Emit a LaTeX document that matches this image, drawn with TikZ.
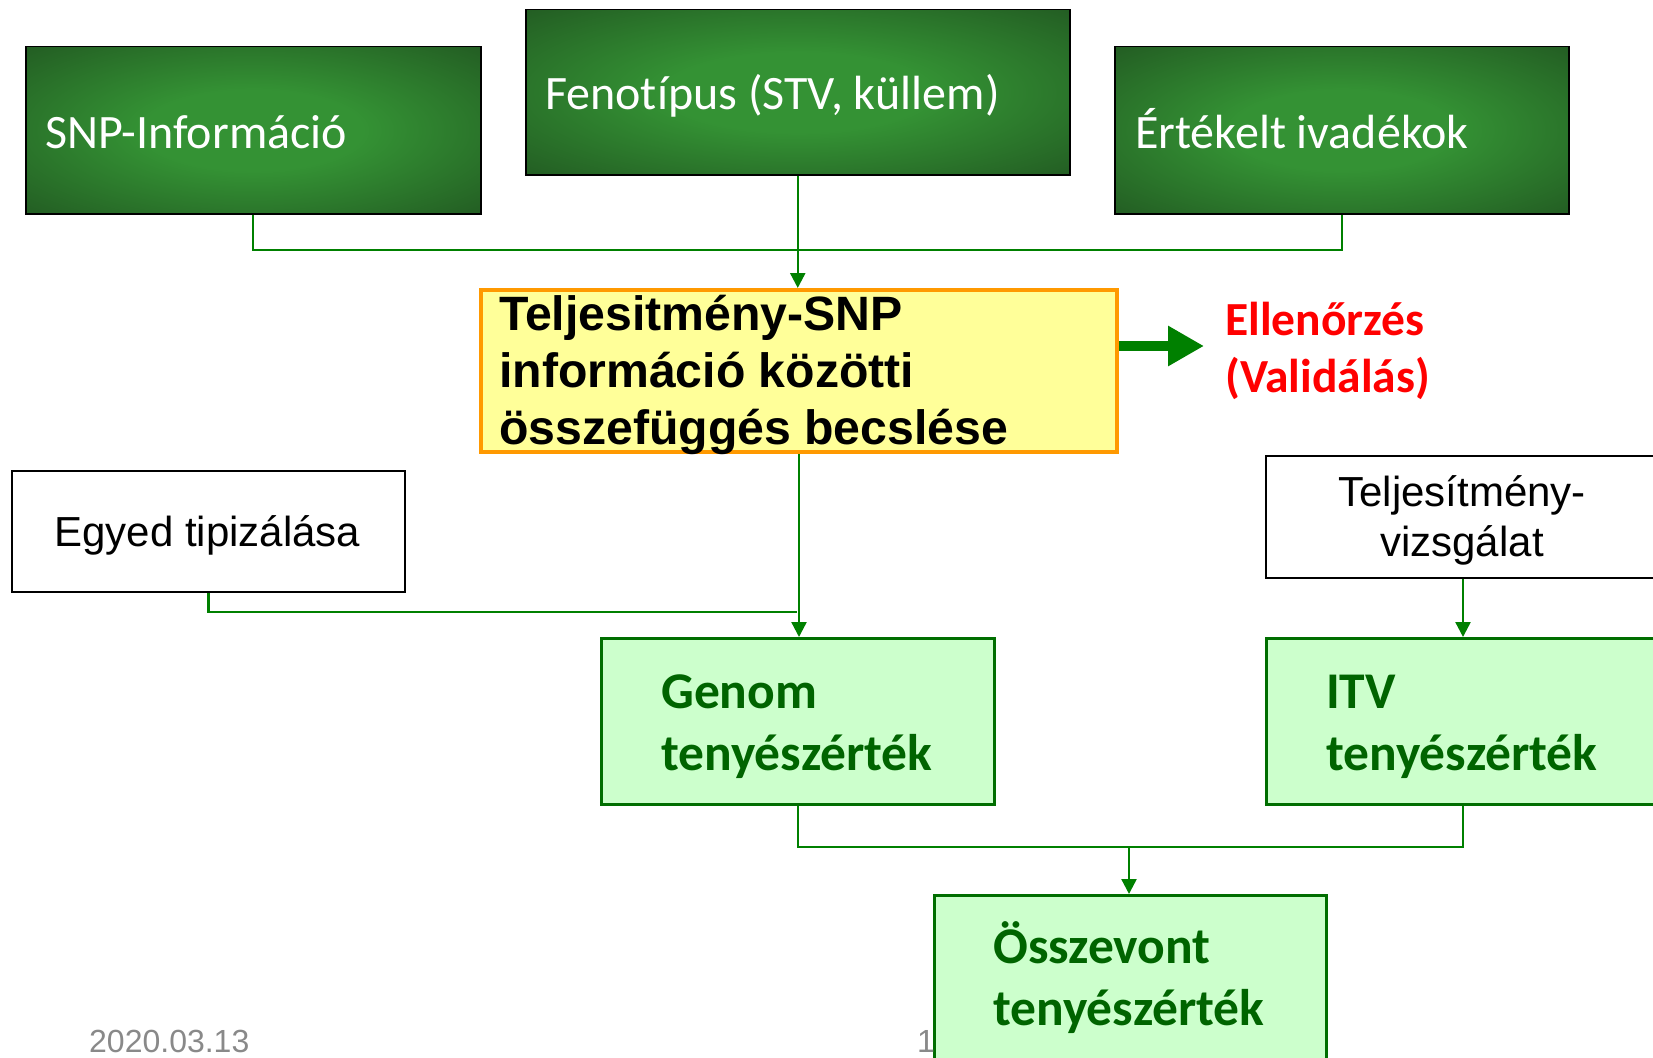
\documentclass[tikz,border=0pt]{standalone}
\usepackage{fontspec}
\setmainfont{Liberation Sans}
\newfontfamily\calfont[Ligatures=NoCommon]{Carlito}
\usetikzlibrary{arrows.meta}
\definecolor{glowin}{RGB}{52,146,52}
\definecolor{glowout}{RGB}{28,72,28}
\definecolor{conngreen}{RGB}{0,128,0}
\definecolor{boxgreen}{RGB}{0,110,0}
\definecolor{lightgreen}{RGB}{204,255,204}
\definecolor{paleyellow}{RGB}{255,255,153}
\definecolor{orangeb}{RGB}{255,153,0}
\definecolor{dategray}{RGB}{137,137,137}
\definecolor{txtgreen}{RGB}{0,100,0}
\pgfdeclareradialshading{boxglow}{\pgfpoint{0bp}{0bp}}{color(0bp)=(glowin); color(12bp)=(glowin); color(45bp)=(glowout); color(100bp)=(glowout)}
\begin{document}
\begin{tikzpicture}[x=1pt,y=-1pt,
  boxbase/.style={rectangle, inner sep=0pt, anchor=north west},
  darkbox/.style={boxbase, draw=black, line width=1.5pt, shade, shading=boxglow},
  yellowbox/.style={boxbase, draw=orangeb, fill=paleyellow, line width=4pt},
  whitebox/.style={boxbase, draw=black, fill=white, line width=2pt},
  greenbox/.style={boxbase, draw=boxgreen, fill=lightgreen, line width=2.5pt},
  toptext/.style={inner sep=0pt, anchor=base west, text=white, font=\calfont\fontsize{48}{58}\selectfont},
  greentext/.style={inner sep=0pt, anchor=base west, align=left, text=txtgreen, font=\calfont\bfseries\fontsize{51.5}{62}\selectfont},
  conn/.style={draw=conngreen, line width=2.4pt},
  arr/.style={conn, -{Triangle[length=15pt,width=15pt]}},
  bigarr/.style={draw=conngreen, line width=10pt, -{Triangle[length=36pt,width=38pt]}}
]
\path[use as bounding box, clip] (0,0) rectangle (1653,1057);
\fill[white] (0,0) rectangle (1653,1057);

% top dark boxes
\node[darkbox, minimum width=455pt, minimum height=167pt] (snp) at (25,46) {};
\node[darkbox, minimum width=544pt, minimum height=165pt] (feno) at (525,9) {};
\node[darkbox, minimum width=454pt, minimum height=167pt] (ert) at (1114,46) {};
\node[toptext] (snpt) at (45,148) {SNP-Információ};
\node[toptext] (fenot) at (545,109) {Fenotípus (STV, küllem)};
\node[toptext] (ertt) at (1135,148) {Értékelt ivadékok};

% yellow box
\node[yellowbox, minimum width=636pt, minimum height=162pt] (yel) at (479,288) {};
\node[inner sep=0pt, anchor=base west, align=left, font=\bfseries\fontsize{48.2}{57}\selectfont] (yelt) at (499,444) {Teljesitmény-SNP\\információ közötti\\összefüggés becslése};

% validation
\coordinate (va) at (1204,346);
\node[inner sep=0pt, anchor=base west, align=left, text=red, font=\calfont\bfseries\fontsize{47.5}{57}\selectfont] (valid) at (1225,392) {Ellenőrzés\\(Validálás)};

% white boxes
\node[whitebox, minimum width=393pt, minimum height=121pt] (egyed) at (11,470) {};
\node[inner sep=0pt, anchor=base, font=\fontsize{42}{50}\selectfont] (egyedt) at (207.5,546) {Egyed tipizálása};
\node[whitebox, minimum width=394pt, minimum height=122pt] (telj) at (1265,455) {};
\node[inner sep=0pt, anchor=base, align=center, font=\fontsize{42}{50}\selectfont] (teljt) at (1462,556) {Teljesítmény-\\vizsgálat};

% green boxes
\node[greenbox, minimum width=393pt, minimum height=166pt] (genom) at (600,637) {};
\node[greentext] (genomt) at (661,770) {Genom\\tenyészérték};
\node[greenbox, minimum width=394pt, minimum height=166pt] (itv) at (1265,637) {};
\node[greentext] (itvt) at (1326,770) {ITV\\tenyészérték};
\node[greenbox, minimum width=392pt, minimum height=190pt] (ossz) at (933,894) {};
\node[greentext] (osszt) at (993,1025) {Összevont\\tenyészérték};

% footer
\node[inner sep=0pt, anchor=base west, text=dategray, font=\fontsize{32}{38}\selectfont] (date) at (89,1052) {2020.03.13};
\node[inner sep=0pt, anchor=base west, text=dategray, font=\fontsize{32}{38}\selectfont] (pnum) at (917,1052) {1};

% connectors
\coordinate (jt) at (797,250);
\coordinate (jg) at (797,612);
\coordinate (jb) at (1129,847);
\draw[conn] (snp.south) |- (jt);
\draw[conn] (ert.south) |- (jt);
\draw[arr] (feno.south) -- (feno.south |- yel.north);
\draw[arr] (yel.south) -- (yel.south |- genom.north);
\draw[conn] (egyed.south) |- (jg);
\draw[arr] (telj.south) -- (telj.south |- itv.north);
\draw[conn] (genom.south) |- (jb);
\draw[conn] (itv.south) |- (jb);
\draw[arr] (jb) -- (jb |- ossz.north);
\draw[bigarr] (yel.east |- va) -- (va);
\end{tikzpicture}
\end{document}
